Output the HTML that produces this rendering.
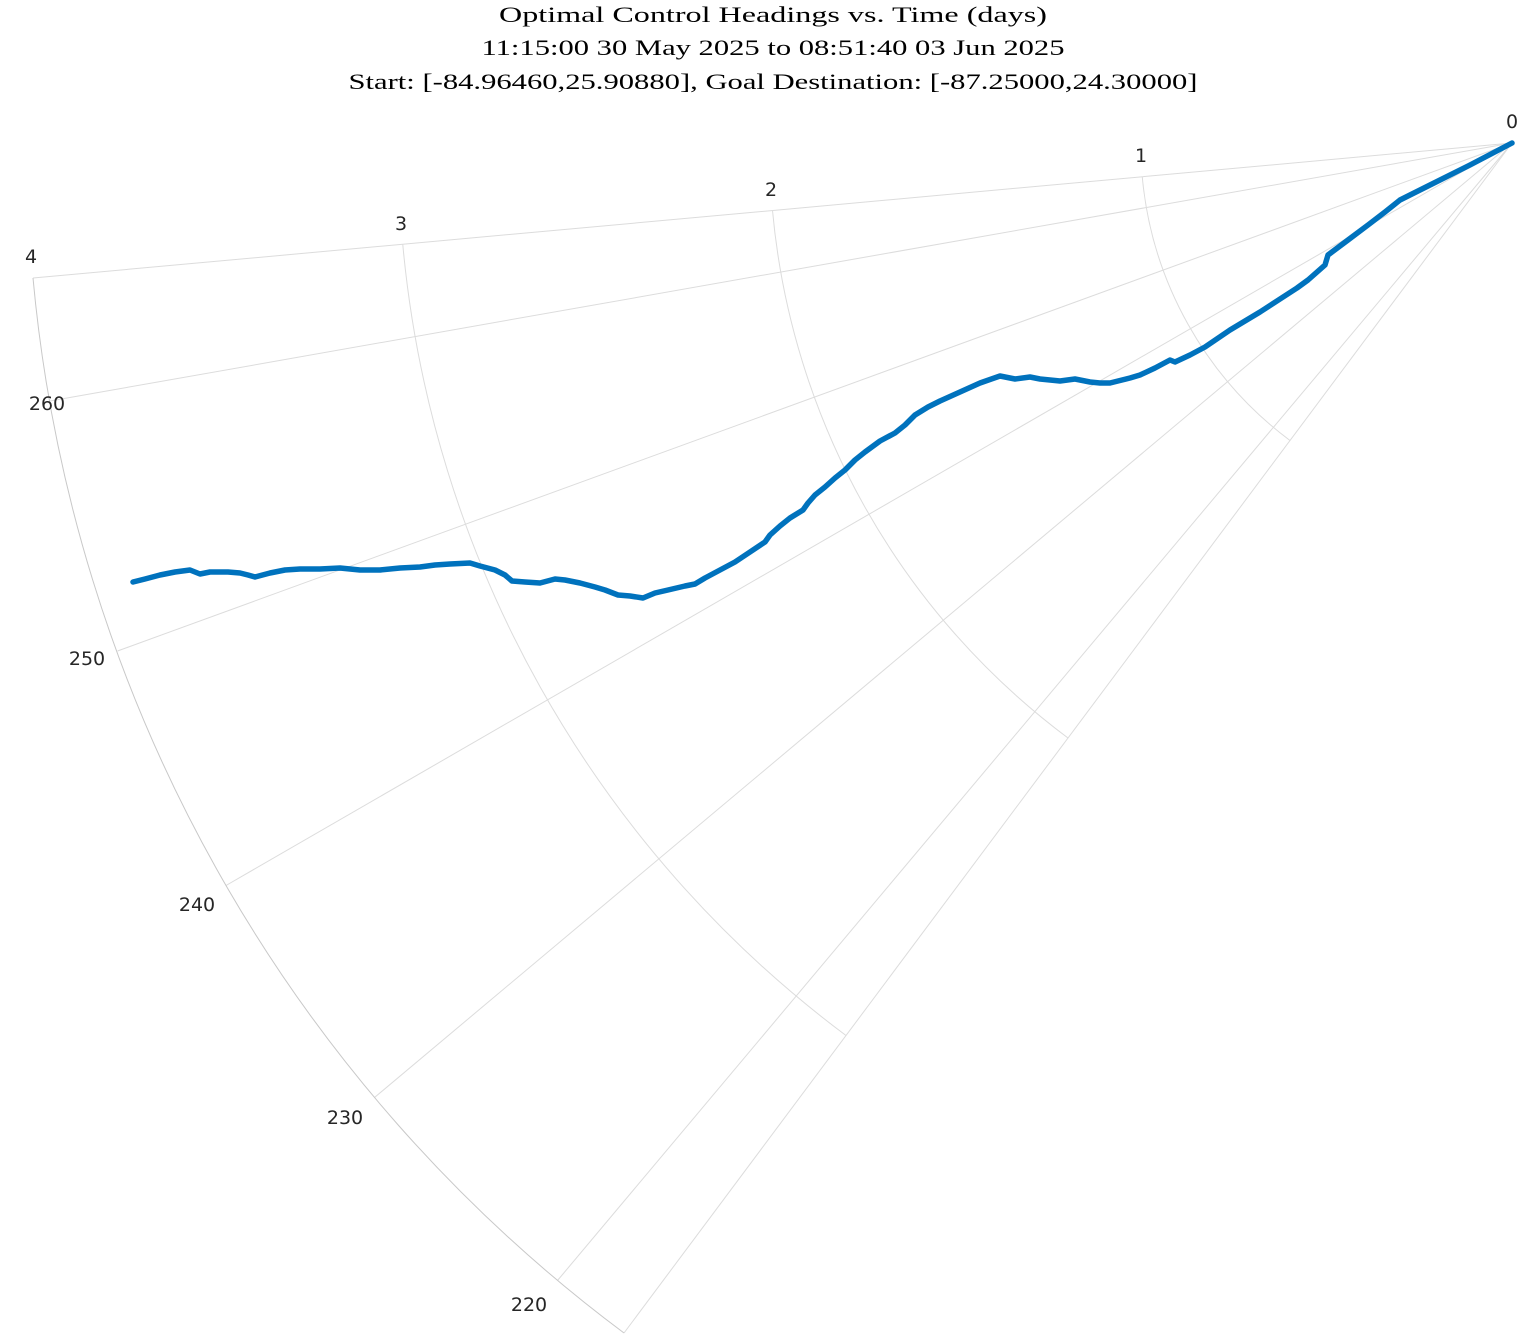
<!DOCTYPE html>
<html><head><meta charset="utf-8"><style>
html,body{margin:0;padding:0;background:#fff;}
svg{display:block;}
</style></head><body>
<svg width="1518" height="1337" viewBox="0 0 1518 1337" xmlns="http://www.w3.org/2000/svg">
<rect width="1518" height="1337" fill="#fff"/>
<g font-family="Liberation Serif, serif" font-size="22" fill="#000" text-anchor="middle">
<text x="773" y="22" textLength="548" lengthAdjust="spacingAndGlyphs">Optimal Control Headings vs. Time (days)</text>
<text x="773" y="55" textLength="583" lengthAdjust="spacingAndGlyphs">11:15:00 30 May 2025 to 08:51:40 03 Jun 2025</text>
<text x="773" y="89" textLength="849" lengthAdjust="spacingAndGlyphs">Start: [-84.96460,25.90880], Goal Destination: [-87.25000,24.30000]</text>
</g>
<g stroke="#dcdcdc" stroke-width="1" fill="none">
<line x1="1512" y1="143" x2="33" y2="278"/>
<line x1="1512" y1="143" x2="50" y2="401"/>
<line x1="1512" y1="143" x2="117.5" y2="651"/>
<line x1="1512" y1="143" x2="226" y2="885.5"/>
<line x1="1512" y1="143" x2="374.5" y2="1097.5"/>
<line x1="1512" y1="143" x2="557.5" y2="1280.5"/>
<line x1="1512" y1="143" x2="624" y2="1333"/>
<path d="M1142.25,176.75 A371.25,371.25 0 0 0 1290,440.5"/>
<path d="M772.5,210.5 A742.5,742.5 0 0 0 1068,738"/>
<path d="M402.75,244.25 A1113.75,1113.75 0 0 0 846,1035.5"/>
</g>
<path d="M33,278 A1485,1485 0 0 0 624,1333" stroke="#c8c8c8" stroke-width="1" fill="none"/>
<g font-family="DejaVu Sans, sans-serif" font-size="19" fill="#262626" text-anchor="middle">
<text x="1512" y="128">0</text>
<text x="1141" y="162">1</text>
<text x="771" y="196">2</text>
<text x="401" y="230">3</text>
<text x="31" y="263">4</text>
<text x="47" y="410">260</text>
<text x="87" y="665">250</text>
<text x="197" y="911">240</text>
<text x="345" y="1124">230</text>
<text x="529" y="1311">220</text>
</g>
<polyline fill="none" stroke="#0072bd" stroke-width="5.5" stroke-linejoin="round" stroke-linecap="round" points="1512,143 1470,165 1430,185 1400,200 1385,212 1368,225 1348,240 1328,255 1325,265 1308,280 1297,288 1260,312 1230,330 1205,347 1190,355 1175,362 1170,360 1155,368 1140,375 1130,378 1118,381 1110,383 1100,383 1090,382 1075,379 1060,381 1050,380 1040,379 1030,377 1015,379 1000,376 980,383 960,392 940,401 928,407 915,415 905,425 895,433 880,441 865,452 855,460 845,470 835,478 825,487 815,495 808,503 803,510 790,518 780,526 770,535 765,542 750,552 735,562 720,570 705,578 695,584 685,586 668,590 655,593 643,598 630,596 618,595 605,590 595,587 580,583 565,580 555,579 540,583 525,582 512,581 505,575 495,570 480,566 470,563 450,564 435,565 420,567 400,568 380,570 360,570 340,568 320,569 300,569 285,570 270,573 255,577 248,575 240,573 228,572 210,572 200,574 190,570 175,572 160,575 145,579 133,582"/>
</svg>
</body></html>
